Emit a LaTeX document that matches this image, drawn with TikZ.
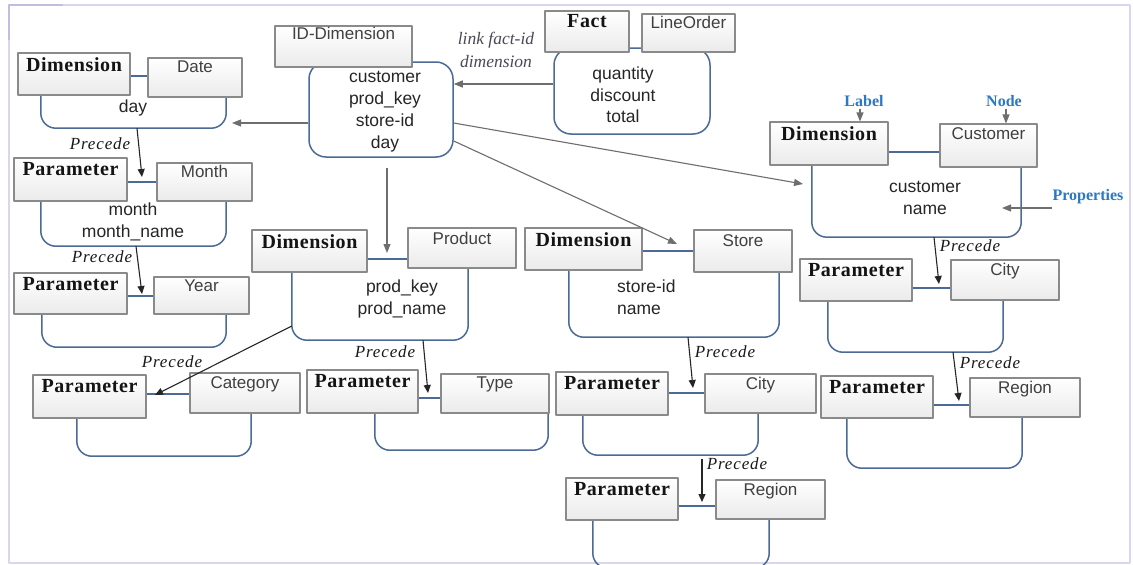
\documentclass[tikz,border=0pt]{standalone}
\usepackage{fontspec}
\usetikzlibrary{arrows.meta,shadows,calc}
\newfontfamily\sansf{Liberation Sans}
\newfontfamily\serf{Liberation Serif}
\newfontfamily\tagf[LetterSpace=3]{Liberation Serif}
\newfontfamily\precf[LetterSpace=5]{Liberation Serif}
\definecolor{frameC}{HTML}{DAD6F0}
\definecolor{frameD}{HTML}{C4BCE0}
\definecolor{bodyC}{HTML}{4B6A95}
\definecolor{boxC}{HTML}{8A8A8A}
\definecolor{arrC}{HTML}{6E6E6E}
\definecolor{blueC}{HTML}{2B78C4}
\definecolor{noteC}{HTML}{4A4A58}

\tikzset{
  tagframe/.style={draw=boxC, line width=1.1pt, top color=white, bottom color=black!8,
    inner sep=0pt, rectangle,
    drop shadow={shadow xshift=1.2pt, shadow yshift=-1.2pt, opacity=0.12, fill=black}},
  lbltxt/.style={font=\tagf\bfseries\fontsize{20}{24}\selectfont, text=black!92, yshift=-4.5pt},
  nametxt/.style={font=\sansf\fontsize{17}{20}\selectfont, text=black!75, yshift=-3.5pt},
  bodytxt/.style={font=\sansf\fontsize{17.5}{22}\selectfont, text=black!85, inner sep=0pt},
  prectxt/.style={font=\precf\itshape\fontsize{17}{20}\selectfont, text=black!90, inner sep=0pt},
  bluetxt/.style={font=\serf\bfseries\fontsize{16}{19}\selectfont, text=blueC, inner sep=0pt},
  notetxt/.style={font=\serf\itshape\fontsize{17.5}{23}\selectfont, text=noteC, inner sep=0pt},
  bodyzone/.style={draw=none, inner sep=0pt, rectangle},
  bodyline/.style={draw=bodyC, line width=1.5pt, rounded corners=15pt},
  bodybox/.style={draw=bodyC, line width=1.5pt, rounded corners=17pt, fill=white, inner sep=0pt},
  tagline/.style={draw=bodyC, line width=1.3pt},
  garrow/.style={draw=arrC, line width=1.1pt, -{Triangle[length=9pt,width=7pt]}},
  parrow/.style={draw=black!85, line width=1.1pt, -{Triangle[length=8pt,width=7pt]}}
}

% boxed tag: name, text style, x1, y1, x2, y2, text
\newcommand\tagbox[7]{%
  \node[tagframe, minimum width={(#5-#3)*1pt}, minimum height={(#6-#4)*1pt},
    label={[#2, anchor=north, inner sep=0pt]north:#7}] (#1) at ({(#3+#5)/2},{(#4+#6)/2}) {};}
% open body under a pair of tags: name, left x, right x, top y, bottom y
\newcommand\ubody[5]{%
  \node[bodyzone, minimum width={(#3-#2)*1pt}, minimum height={(#5-#4)*1pt}] (#1) at ({(#2+#3)/2},{(#4+#5)/2}) {};
  \draw[bodyline] (#1.north west) -- (#1.south west) -- (#1.south east) -- (#1.north east);}
% closed body: name, x1, y1, x2, y2
\newcommand\cbody[5]{%
  \node[bodybox, minimum width={(#4-#2)*1pt}, minimum height={(#5-#3)*1pt}] (#1) at ({(#2+#4)/2},{(#3+#5)/2}) {};}

\begin{document}
\begin{tikzpicture}[x=1pt,y=-1pt,line join=round]
\useasboundingbox (0,0) rectangle (1133,565);
\fill[white] (0,0) rectangle (1133,565);

% outer frame
\draw[frameC, line width=2pt] (9,5) rectangle (1130,563);
\draw[frameD, line width=1.5pt] (9,40) -- (9,5) -- (63,5);

% ---- bodies ----
\cbody{bID}{309}{62}{453}{157}
\cbody{bFact}{554}{48}{710}{134}
\ubody{bDate}{41}{226}{92}{128}
\ubody{bMonth}{41}{226}{198}{246}
\ubody{bYear}{42}{226}{311}{347}
\ubody{bProd}{292}{468}{266}{340}
\ubody{bCat}{77}{251}{411}{456}
\ubody{bType}{375}{548}{410}{450}
\ubody{bStore}{569}{779}{267}{337}
\ubody{bCity}{583}{758}{411}{455}
\ubody{bReg}{593}{769}{516}{568}
\ubody{bCust}{812}{1021}{162}{237}
\ubody{bCityR}{828}{1003}{298}{352}
\ubody{bRegR}{847}{1022}{415}{468}

% ---- links between a tag and its node ----
\coordinate (kDate) at (140,76);
\coordinate (kMonth) at (140,182);
\coordinate (kYear) at (140,296);
\coordinate (kProd) at (390,259);
\coordinate (kCat) at (170,394);
\coordinate (kType) at (430,398);
\coordinate (kStore) at (670,251);
\coordinate (kCity) at (690,393);
\coordinate (kReg) at (700,506);
\coordinate (kCust) at (910,152);
\coordinate (kCityR) at (930,288);
\coordinate (kRegR) at (950,405);

% ---- tags ----
\tagbox{nID}{nametxt, yshift=1.5pt}{275}{26}{412}{67}{ID-Dimension}
\tagbox{dFact}{lbltxt, yshift=0.5pt}{545}{11}{629}{52}{Fact}
\tagbox{nFact}{nametxt, yshift=0.5pt}{642}{14}{735}{52}{LineOrder}
\tagbox{dDate}{lbltxt}{18}{53}{130}{95}{Dimension}
\tagbox{nDate}{nametxt}{148}{58}{242}{97}{Date}
\tagbox{dMonth}{lbltxt}{14}{158}{127}{201}{Parameter}
\tagbox{nMonth}{nametxt, yshift=1pt}{157}{163}{252}{201}{Month}
\tagbox{dYear}{lbltxt}{14}{273}{127}{314}{Parameter}
\tagbox{nYear}{nametxt}{154}{277}{249}{314}{Year}
\tagbox{dProd}{lbltxt}{252}{230}{367}{272}{Dimension}
\tagbox{nProd}{nametxt, yshift=-1pt}{408}{228}{516}{268}{Product}
\tagbox{dCat}{lbltxt}{33}{375}{146}{418}{Parameter}
\tagbox{nCat}{nametxt}{190}{373}{300}{413}{Category}
\tagbox{dType}{lbltxt}{307}{370}{418}{413}{Parameter}
\tagbox{nType}{nametxt}{441}{374}{549}{413}{Type}
\tagbox{dStore}{lbltxt}{525}{228}{642}{270}{Dimension}
\tagbox{nStore}{nametxt, yshift=-1pt}{694}{230}{792}{272}{Store}
\tagbox{dCity}{lbltxt}{556}{372}{668}{415}{Parameter}
\tagbox{nCity}{nametxt}{705}{374}{816}{413}{City}
\tagbox{dReg}{lbltxt}{566}{478}{678}{520}{Parameter}
\tagbox{nReg}{nametxt}{716}{480}{825}{519}{Region}
\tagbox{dCust}{lbltxt}{770}{122}{888}{165}{Dimension}
\tagbox{nCust}{nametxt}{940}{124}{1037}{167}{Customer}
\tagbox{dCityR}{lbltxt}{800}{259}{912}{301}{Parameter}
\tagbox{nCityR}{nametxt}{951}{260}{1059}{300}{City}
\tagbox{dRegR}{lbltxt}{821}{376}{933}{418}{Parameter}
\tagbox{nRegR}{nametxt}{970}{378}{1080}{417}{Region}

\draw[tagline] (dDate.east |- kDate) -- (nDate.west |- kDate);
\draw[tagline] (dMonth.east |- kMonth) -- (nMonth.west |- kMonth);
\draw[tagline] (dYear.east |- kYear) -- (nYear.west |- kYear);
\draw[tagline] (dProd.east |- kProd) -- (nProd.west |- kProd);
\draw[tagline] (dCat.east |- kCat) -- (nCat.west |- kCat);
\draw[tagline] (dType.east |- kType) -- (nType.west |- kType);
\draw[tagline] (dStore.east |- kStore) -- (nStore.west |- kStore);
\draw[tagline] (dCity.east |- kCity) -- (nCity.west |- kCity);
\draw[tagline] (dReg.east |- kReg) -- (nReg.west |- kReg);
\draw[tagline] (dCust.east |- kCust) -- (nCust.west |- kCust);
\draw[tagline] (dCityR.east |- kCityR) -- (nCityR.west |- kCityR);
\draw[tagline] (dRegR.east |- kRegR) -- (nRegR.west |- kRegR);

% ---- properties ----
\node[bodytxt, align=center] (tID) at (385,112) {customer\\prod\_key\\store-id\\day};
\node[bodytxt, align=center, font=\sansf\fontsize{17.5}{21.5}\selectfont] (tFact) at (623,95) {quantity\\discount\\total};
\node[bodytxt] (tDate) at (133,108) {day};
\node[bodytxt, align=center] (tMonth) at (133,222) {month\\month\_name};
\node[bodytxt, align=center] (tProd) at (402,299) {prod\_key\\prod\_name};
\node[bodytxt, align=left, anchor=west] (tStore) at (617,297) {store-id\\name};
\node[bodytxt, align=center] (tCust) at (925,198) {customer\\name};

% ---- links from the fact and the ID-dimension ----
\node[notetxt, align=center] (tLink) at (496,50) {link fact-id\\dimension};
\draw[garrow] (bFact.west |- 0,84) -- (bID.east |- 0,84);
\coordinate (inDate) at (232,123);
\draw[garrow] (bID.west |- inDate) -- (inDate);
\coordinate (inProd) at (387,253);
\draw[garrow, shorten <=10pt] (bID.south -| inProd) -- (inProd);
\coordinate (inStore) at (677,244);
\draw[garrow] (bID.east |- 0,141) -- (inStore);
\coordinate (inCust) at (803,184);
\draw[garrow] (bID.east |- 0,123) -- (inCust);

% ---- precede links ----
\coordinate (pMonth) at (142,177);
\draw[parrow] (bDate.south -| 137,0) -- (pMonth);
\node[prectxt] (qMonth) at (100,144) {Precede};
\coordinate (pYear) at (142,294);
\draw[parrow] (bMonth.south -| 136,0) -- (pYear);
\node[prectxt] (qYear) at (102,257) {Precede};
\coordinate (pCat) at (155,395);
\draw[parrow] (bProd.west |- 0,326) -- (pCat);
\node[prectxt] (qCat) at (172,362) {Precede};
\coordinate (pType) at (428,393);
\draw[parrow] (bProd.south -| 423,0) -- (pType);
\node[prectxt] (qType) at (385,352) {Precede};
\coordinate (pCity) at (693,388);
\draw[parrow] (bStore.south -| 688,0) -- (pCity);
\node[prectxt] (qCity) at (725,352) {Precede};
\coordinate (pReg) at (702,502);
\draw[parrow, shorten <=4pt] (bCity.south -| 702,0) -- (pReg);
\node[prectxt] (qReg) at (737,464) {Precede};
\coordinate (pCityR) at (939,284);
\draw[parrow] (bCust.south -| 934,0) -- (pCityR);
\node[prectxt] (qCityR) at (970,246) {Precede};
\coordinate (pRegR) at (959,401);
\draw[parrow] (bCityR.south -| 953,0) -- (pRegR);
\node[prectxt] (qRegR) at (990,363) {Precede};

% ---- legend ----
\node[bluetxt] (tLabel) at (864,101) {Label};
\draw[garrow, shorten <=2pt] (tLabel.south -| 860,0) -- (dCust.north -| 860,0);
\node[bluetxt] (tNode) at (1004,101) {Node};
\draw[garrow, shorten <=2pt] (tNode.south -| 1006,0) -- (nCust.north -| 1006,0);
\node[bluetxt] (tProps) at (1088,197) {Properties};
\coordinate (inProps) at (1002,208);
\draw[garrow] (tProps.west |- inProps) -- (inProps);
\end{tikzpicture}
\end{document}
